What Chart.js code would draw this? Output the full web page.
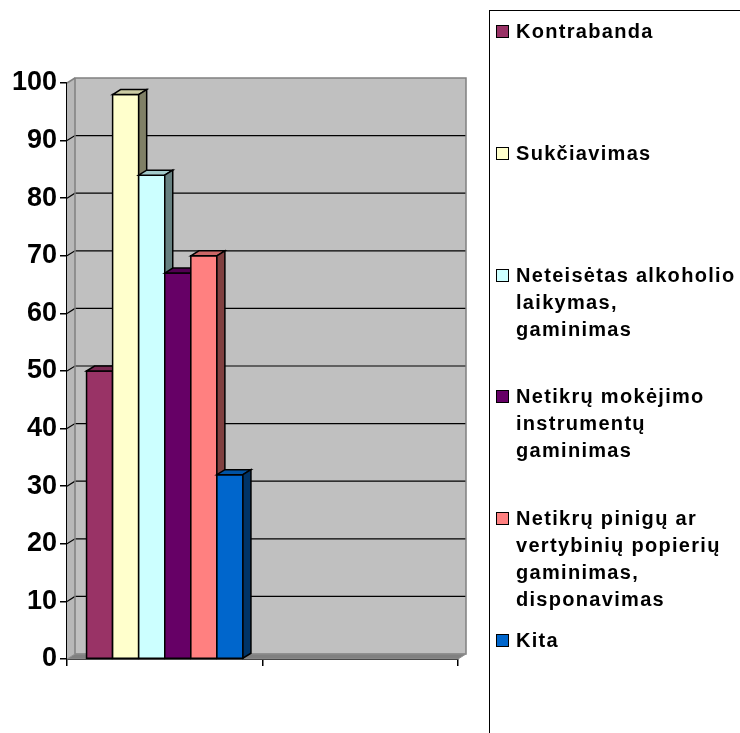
<!DOCTYPE html>
<html>
<head>
<meta charset="utf-8">
<script src="https://cdn.jsdelivr.net/npm/chart.js@4.4.0/dist/chart.umd.min.js"></script>
<style>
  body { margin: 0; background: #fff; }
  #wrap { position: relative; width: 740px; height: 733px; overflow: hidden; }
  #legend {
    position: absolute; left: 489px; top: 10px; width: 300px; height: 800px;
    border-left: 1.5px solid #000; border-top: 1.5px solid #000;
    font: bold 20px "Liberation Sans", Arial, sans-serif; letter-spacing: 1.3px; color: #000;
  }
  .item { position: absolute; left: 6px; line-height: 27px; white-space: nowrap; }
  .box { position: absolute; left: 0; top: 7px; width: 11px; height: 11px; border: 1px solid #000; }
  .txt { margin-left: 20px; }
</style>
</head>
<body>
<div id="wrap">
  <canvas id="chart" width="740" height="733"></canvas>
  <div id="legend"></div>
</div>
<script>
// chart data
const categories = ['', ''];
const seriesNames = [
  ['Kontrabanda'],
  ['Sukčiavimas'],
  ['Neteisėtas alkoholio', 'laikymas,', 'gaminimas'],
  ['Netikrų mokėjimo', 'instrumentų', 'gaminimas'],
  ['Netikrų pinigų ar', 'vertybinių popierių', 'gaminimas,', 'disponavimas'],
  ['Kita']
];
const kontrabanda = [50, null];
const sukciavimas = [98, null];
const alkoholis = [84, null];
const mokejimas = [67, null];
const pinigai = [70, null];
const kita = [32, null];
const seriesValues = [kontrabanda, sukciavimas, alkoholis, mokejimas, pinigai, kita];
const seriesColors = ['#993366', '#FFFFCC', '#CCFFFF', '#660066', '#FF8080', '#0066CC'];

const FONT = '"Liberation Sans", Arial, sans-serif';
const DX = 8, DY = 5; // depth of the 3d look

function shade(hex, f) {
  const n = parseInt(hex.slice(1), 16);
  const r = Math.round(((n >> 16) & 255) * f);
  const g = Math.round(((n >> 8) & 255) * f);
  const b = Math.round((n & 255) * f);
  return `rgb(${r},${g},${b})`;
}

function poly(ctx, pts, fill, stroke, lw) {
  ctx.beginPath();
  ctx.moveTo(pts[0][0], pts[0][1]);
  for (let i = 1; i < pts.length; i++) ctx.lineTo(pts[i][0], pts[i][1]);
  ctx.closePath();
  if (fill) { ctx.fillStyle = fill; ctx.fill(); }
  if (stroke) { ctx.strokeStyle = stroke; ctx.lineWidth = lw || 1; ctx.stroke(); }
}

// back wall, side wall, floor and grid
const walls = {
  id: 'walls',
  beforeDatasetsDraw(chart) {
    const ctx = chart.ctx, a = chart.chartArea, y = chart.scales.y;
    const w = a.right - a.left, h = a.bottom - a.top;
    ctx.save();
    ctx.fillStyle = '#c0c0c0';
    ctx.fillRect(a.left + DX, a.top - DY, w, h);
    poly(ctx, [[a.left, a.top], [a.left + DX, a.top - DY], [a.left + DX, a.bottom - DY], [a.left, a.bottom]], '#b8b8b8', null);
    y.ticks.forEach(t => {
      if (t.value <= 0 || t.value >= 100) return;
      const py = y.getPixelForValue(t.value);
      ctx.beginPath();
      ctx.moveTo(a.left, py);
      ctx.lineTo(a.left + DX, py - DY);
      ctx.lineTo(a.right + DX, py - DY);
      ctx.strokeStyle = '#000';
      ctx.lineWidth = 1.2;
      ctx.stroke();
    });
    ctx.strokeStyle = '#808080';
    ctx.lineWidth = 1.5;
    ctx.strokeRect(a.left + DX, a.top - DY, w, h);
    ctx.beginPath();
    ctx.moveTo(a.left, a.top); ctx.lineTo(a.left + DX, a.top - DY);
    ctx.stroke();
    poly(ctx, [[a.left, a.bottom], [a.left + DX, a.bottom - DY], [a.right + DX, a.bottom - DY], [a.right, a.bottom]], '#808080', '#909090', 1);
    ctx.restore();
  }
};

// redraw bars left to right with top and side faces
const bars3d = {
  id: 'bars3d',
  afterDatasetsDraw(chart) {
    const ctx = chart.ctx;
    ctx.save();
    ctx.lineJoin = 'miter';
    chart.data.datasets.forEach((ds, i) => {
      const meta = chart.getDatasetMeta(i);
      meta.data.forEach((bar, j) => {
        if (ds.data[j] == null) return;
        const p = bar.getProps(['x', 'y', 'base', 'width'], true);
        const l = p.x - p.width / 2, r = p.x + p.width / 2;
        poly(ctx, [[l, p.y], [r, p.y], [r, p.base], [l, p.base]], seriesColors[i], '#000', 1.5);
        poly(ctx, [[l, p.y], [l + DX, p.y - DY], [r + DX, p.y - DY], [r, p.y]], shade(seriesColors[i], 0.8), '#000', 1.5);
        poly(ctx, [[r, p.y], [r + DX, p.y - DY], [r + DX, p.base - DY], [r, p.base]], shade(seriesColors[i], 0.5), '#000', 1.5);
      });
    });
    ctx.restore();
  }
};

new Chart(document.getElementById('chart'), {
  type: 'bar',
  data: {
    labels: categories,
    datasets: seriesValues.map((vals, i) => ({
      label: seriesNames[i].join(' '),
      data: vals,
      backgroundColor: seriesColors[i],
      borderWidth: 0,
      categoryPercentage: 0.8,
      barPercentage: 1.0
    }))
  },
  options: {
    responsive: false,
    animation: false,
    layout: { padding: { top: 83, right: 282, left: 0, bottom: 0 } },
    plugins: { legend: { display: false }, tooltip: { enabled: false } },
    scales: {
      x: {
        ticks: { color: '#000', font: { size: 1 } },
        grid: { drawOnChartArea: false, drawTicks: true, tickLength: 7, color: '#000', lineWidth: 1.5, offset: true },
        border: { color: '#000', width: 2 },
        afterFit(s) { s.height = 74; }
      },
      y: {
        min: 0,
        max: 100,
        ticks: { stepSize: 10, color: '#000', padding: 3, font: { family: FONT, size: 27, weight: 'bold' } },
        grid: { drawOnChartArea: false, drawTicks: true, tickLength: 7, color: '#000', lineWidth: 1.5 },
        border: { color: '#000', width: 1.5 },
        afterFit(s) { s.width = 67; }
      }
    }
  },
  plugins: [walls, bars3d]
});

// legend
const legend = document.getElementById('legend');
seriesNames.forEach((lines, i) => {
  const item = document.createElement('div');
  item.className = 'item';
  item.style.top = (7 + i * 121.8) + 'px';
  const box = document.createElement('div');
  box.className = 'box';
  box.style.background = seriesColors[i];
  item.appendChild(box);
  const txt = document.createElement('div');
  txt.className = 'txt';
  lines.forEach(line => {
    const d = document.createElement('div');
    d.textContent = line;
    txt.appendChild(d);
  });
  item.appendChild(txt);
  legend.appendChild(item);
});
</script>
</body>
</html>
